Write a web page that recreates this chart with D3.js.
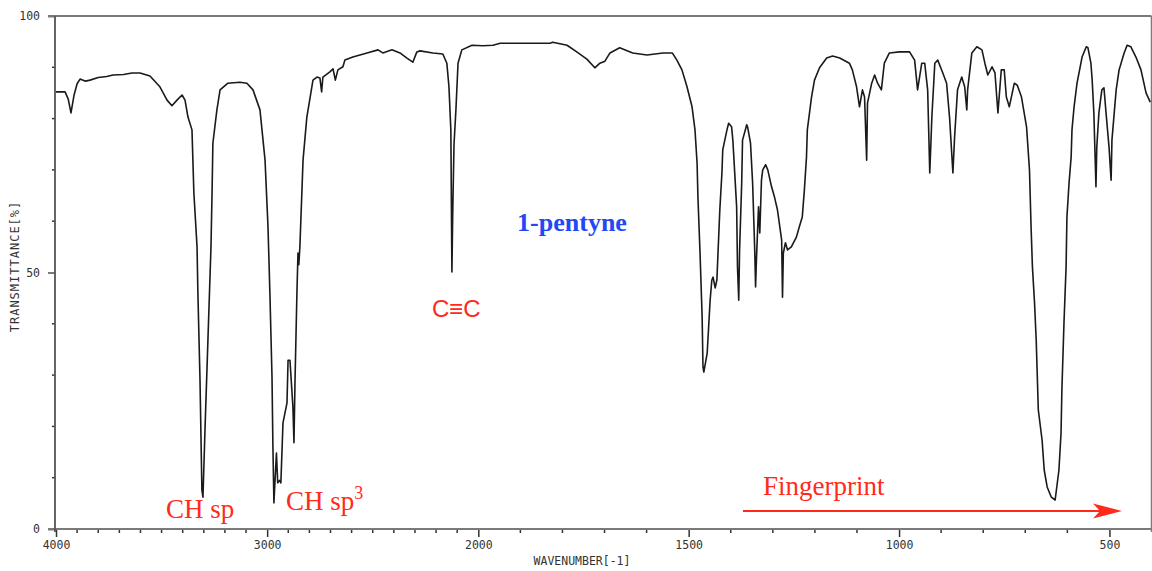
<!DOCTYPE html>
<html><head><meta charset="utf-8">
<script src="https://cdn.jsdelivr.net/npm/d3@7/dist/d3.min.js"></script>
<style>body{margin:0;background:#fff}svg{display:block}</style>
</head><body><svg id="c" width="1152" height="571"></svg>
<script>
const wavenumbers = [4000,3957,3942,3929,3915,3900,3886,3860,3839,3800,3760,3730,3680,3640,3602,3555,3508,3474,3451,3427,3403,3389,3375,3356,3347,3332,3328,3318,3309,3304,3294,3280,3266,3261,3257,3238,3223,3186,3129,3096,3067,3034,3010,2996,2987,2977,2973,2968,2956,2950,2940,2935,2925,2906,2901,2892,2878,2873,2868,2859,2854,2850,2845,2830,2812,2783,2764,2750,2742,2736,2703,2688,2677,2665,2641,2632,2594,2527,2475,2452,2409,2371,2338,2310,2291,2276,2215,2168,2149,2139,2130,2125,2121,2115,2106,2096,2078,2030,1989,1965,1948,1830,1823,1789,1766,1742,1723,1711,1699,1687,1664,1633,1599,1561,1539,1528,1516,1504,1492,1485,1480,1478,1473,1468,1466,1464,1456,1449,1445,1442,1437,1433,1430,1426,1421,1419,1409,1405,1398,1395,1386,1384,1381,1379,1374,1372,1362,1360,1353,1348,1343,1341,1339,1334,1331,1327,1324,1317,1312,1303,1296,1289,1279,1277,1275,1270,1265,1256,1244,1237,1230,1225,1220,1218,1208,1201,1189,1172,1158,1141,1118,1111,1101,1094,1087,1082,1077,1075,1065,1058,1051,1042,1035,1023,999,975,963,956,946,939,932,927,922,915,908,896,887,880,872,868,861,851,844,839,837,827,815,803,796,789,779,772,765,757,750,745,738,726,719,709,697,690,686,683,678,674,669,660,655,648,638,629,620,615,613,608,603,601,596,591,589,584,577,565,555,551,544,541,537,532,530,525,518,513,508,501,496,494,484,477,465,458,449,437,425,413,403];
const transmittance = [85.2,85.2,83.8,81.1,84.5,86.8,87.7,87.3,87.5,88.0,88.2,88.5,88.6,88.9,88.9,88.3,86.2,83.6,82.5,83.6,84.6,83.6,80.3,77.8,65.5,55.0,46.0,29.0,7.6,6.2,19.9,37.4,55.0,65.5,75.2,81.7,85.6,86.9,87.1,86.9,85.6,81.7,71.9,58.9,46.0,29.6,16.8,5.1,14.8,9.0,9.5,9.0,20.7,24.6,32.9,32.9,23.8,16.8,29.0,46.0,53.8,51.5,55.0,71.9,80.3,87.5,88.1,87.9,85.2,88.1,89.1,89.7,87.5,89.5,90.1,91.4,92.0,92.8,93.4,92.8,93.4,92.8,91.8,91.0,93.0,93.2,92.8,92.6,90.8,86.2,77.8,50.1,62.0,75.0,81.7,90.8,93.4,94.3,94.2,94.3,94.7,94.7,94.9,94.3,93.0,91.6,89.9,90.8,91.2,92.8,93.8,92.8,92.4,92.8,92.8,91.4,89.5,86.2,82.3,77.8,71.3,64.7,53.8,41.3,31.6,30.6,34.3,44.6,48.5,49.1,47.0,48.5,54.4,62.2,69.4,73.9,77.8,79.1,78.4,75.8,62.8,51.1,44.6,54.4,67.4,75.8,78.8,78.4,75.2,67.4,54.4,47.2,52.4,62.8,57.7,68.0,70.0,71.0,70.0,66.7,64.7,62.2,56.3,45.2,53.8,55.8,54.4,55.0,56.9,58.9,60.8,66.1,72.5,77.8,84.2,87.5,89.9,91.8,92.2,91.8,90.8,89.5,86.2,82.3,85.6,84.2,71.9,83.0,86.9,88.5,86.9,85.6,90.8,92.8,93.0,93.0,91.4,85.6,90.8,90.8,85.6,69.4,80.3,90.8,91.4,88.9,86.9,80.3,69.4,76.4,85.6,88.1,86.2,81.7,85.6,92.8,94.0,93.4,90.8,88.5,90.1,88.9,81.1,89.5,89.5,84.2,82.3,86.9,86.5,84.2,78.4,70.0,58.3,51.1,44.1,36.8,23.2,17.3,11.5,8.2,6.2,5.65,11.5,18.7,27.1,40.2,51.1,60.8,67.4,72.5,77.8,82.3,86.9,92.0,94.0,93.8,90.8,87.5,81.1,66.7,74.5,81.1,85.6,86.0,81.1,74.5,68.0,75.8,85.6,89.5,92.8,94.3,94.0,92.0,89.5,85.0,83.2];
const xTickValues = [4000, 3000, 2000, 1500, 1000, 500];
const xMinorTicks = d3.range(3900, 400, -100).filter(v => !xTickValues.includes(v));
const yTickValues = [0, 50, 100];
const yMinorTicks = [10, 20, 30, 40, 60, 70, 80, 90];
const xTitle = "WAVENUMBER[-1]";
const yTitle = "TRANSMITTANCE[%]";
const compound = "1-pentyne";

// ---- layout ----
const svg = d3.select("#c");
const x = d3.scaleLinear().domain([4000, 2000, 400]).range([56, 478.3, 1151.5]);
const y = d3.scaleLinear().domain([0, 100]).range([529, 16]);
const axisColor = "#7a7a7a";
const red = "#ff2a1a";
const mono = "'DejaVu Sans Mono', 'Liberation Mono', monospace";

// frame (top and right)
svg.append("line").attr("x1", 48).attr("x2", x(400)).attr("y1", y(100)).attr("y2", y(100))
  .attr("stroke", axisColor).attr("stroke-width", 2);
svg.append("line").attr("x1", x(400)).attr("x2", x(400)).attr("y1", y(100)).attr("y2", y(0) + 3)
  .attr("stroke", axisColor).attr("stroke-width", 1.5);

// bottom axis
const gx = svg.append("g").attr("transform", `translate(0,${y(0)})`)
  .call(d3.axisBottom(x).tickValues(xTickValues).tickSize(8).tickPadding(4).tickFormat(d3.format("d")));
gx.select(".domain").remove();
gx.selectAll(".tick line").attr("stroke", "#333").attr("stroke-width", 1.5);
gx.selectAll(".tick text").attr("font-family", mono).attr("font-size", 11.5).attr("fill", "#333");
gx.selectAll(".minor").data(xMinorTicks).enter().append("line").attr("class", "minor")
  .attr("x1", d => x(d)).attr("x2", d => x(d)).attr("y1", 0).attr("y2", 4)
  .attr("stroke", "#333").attr("stroke-width", 1.5);
svg.append("line").attr("x1", 48).attr("x2", 1152).attr("y1", y(0)).attr("y2", y(0))
  .attr("stroke", axisColor).attr("stroke-width", 2);

// left axis
const gy = svg.append("g").attr("transform", `translate(${x(4000) - 1},0)`)
  .call(d3.axisLeft(y).tickValues(yTickValues).tickSize(7).tickPadding(8));
gy.select(".domain").remove();
gy.selectAll(".tick line").attr("stroke", axisColor).attr("stroke-width", 2);
gy.selectAll(".tick text").attr("font-family", mono).attr("font-size", 11.5).attr("fill", "#333");
gy.selectAll(".minor").data(yMinorTicks).enter().append("line").attr("class", "minor")
  .attr("x1", -3).attr("x2", 0).attr("y1", d => y(d)).attr("y2", d => y(d))
  .attr("stroke", "#333").attr("stroke-width", 1.5);
svg.append("line").attr("x1", x(4000) - 1).attr("x2", x(4000) - 1).attr("y1", y(100)).attr("y2", y(0) + 3)
  .attr("stroke", "#555").attr("stroke-width", 1.8);

// axis titles
svg.append("text").attr("x", 582).attr("y", 565).attr("text-anchor", "middle")
  .attr("font-family", mono).attr("font-size", 11.5).attr("fill", "#333").text(xTitle);
svg.append("text").attr("transform", `translate(19,${y(50) - 6}) rotate(-90)`).attr("text-anchor", "middle")
  .attr("font-family", mono).attr("font-size", 12).attr("letter-spacing", 1).attr("fill", "#333").text(yTitle);

// spectrum
const pts = wavenumbers.map((w, i) => [w, transmittance[i]]);
svg.append("path").datum(pts)
  .attr("d", d3.line().x(d => x(d[0])).y(d => y(d[1])))
  .attr("fill", "none").attr("stroke", "#1a1a1a").attr("stroke-width", 1.6)
  .attr("stroke-linejoin", "round");

// annotations
const serif = "'Liberation Serif', 'Times New Roman', serif";
svg.append("text").attr("x", 572).attr("y", 231).attr("text-anchor", "middle")
  .attr("font-family", serif).attr("font-weight", "bold").attr("font-size", 26)
  .attr("fill", "#2347f5").text(compound);
svg.append("text").attr("x", 432).attr("y", 317)
  .attr("font-family", "'Liberation Sans', Arial, sans-serif").attr("font-size", 24)
  .attr("fill", red).text("C≡C");
svg.append("text").attr("x", 166).attr("y", 518)
  .attr("font-family", serif).attr("font-size", 27).attr("fill", red).text("CH sp");
const t3 = svg.append("text").attr("x", 286).attr("y", 510)
  .attr("font-family", serif).attr("font-size", 27).attr("fill", red);
t3.append("tspan").text("CH sp");
t3.append("tspan").attr("dy", -11).attr("font-size", 18).text("3");
svg.append("text").attr("x", 763).attr("y", 495)
  .attr("font-family", serif).attr("font-size", 27).attr("fill", red).text("Fingerprint");
svg.append("line").attr("x1", 743).attr("x2", 1102).attr("y1", 511).attr("y2", 511)
  .attr("stroke", red).attr("stroke-width", 2);
svg.append("path").attr("d", "M1122,511 L1093,503.5 L1100,511 L1093,518.5 Z").attr("fill", red);
</script>
</body></html>
